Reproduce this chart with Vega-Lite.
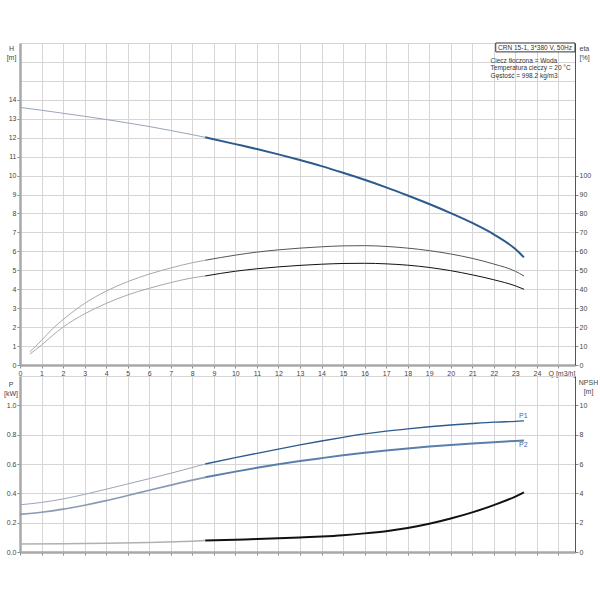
{
  "$schema": "https://vega.github.io/schema/vega-lite/v6.json",
  "padding": {"left": 3, "top": 39, "right": 0, "bottom": 5},
  "spacing": -8,
  "config": {
    "font": "Liberation Sans",
    "view": {"stroke": null},
    "axis": {
      "labelFont": "Liberation Sans",
      "titleFont": "Liberation Sans",
      "labelFontSize": 7,
      "titleFontSize": 7,
      "titleFontWeight": "normal",
      "labelColor": "#444",
      "titleColor": "#444",
      "labelFlush": false,
      "labelOverlap": false,
      "labelSeparation": 0,
      "labelPadding": 1,
      "tickSize": 3,
      "tickColor": "#888",
      "gridColor": "#d6d6d6",
      "gridWidth": 1
    },
    "axisX": {"labelOverlap": false}
  },
  "datasets": {
    "top_h": [
      {"c": "H1", "q": 0, "v": 13.6}, {"c": "H1", "q": 1, "v": 13.45}, {"c": "H1", "q": 2, "v": 13.29},
      {"c": "H1", "q": 3, "v": 13.13}, {"c": "H1", "q": 4, "v": 12.96}, {"c": "H1", "q": 5, "v": 12.78},
      {"c": "H1", "q": 6, "v": 12.59}, {"c": "H1", "q": 7, "v": 12.38}, {"c": "H1", "q": 8, "v": 12.16},
      {"c": "H1", "q": 8.6, "v": 12.02},
      {"c": "H2", "q": 8.6, "v": 12.02}, {"c": "H2", "q": 10, "v": 11.66}, {"c": "H2", "q": 11, "v": 11.4},
      {"c": "H2", "q": 12, "v": 11.12}, {"c": "H2", "q": 13, "v": 10.82}, {"c": "H2", "q": 14, "v": 10.5},
      {"c": "H2", "q": 15, "v": 10.15}, {"c": "H2", "q": 16, "v": 9.78}, {"c": "H2", "q": 17, "v": 9.38},
      {"c": "H2", "q": 18, "v": 8.95}, {"c": "H2", "q": 19, "v": 8.5}, {"c": "H2", "q": 20, "v": 8.02},
      {"c": "H2", "q": 21, "v": 7.5}, {"c": "H2", "q": 22, "v": 6.9}, {"c": "H2", "q": 23, "v": 6.12},
      {"c": "H2", "q": 23.4, "v": 5.68}
    ],
    "top_eta": [
      {"c": "E1a", "q": 0.46, "v": 7}, {"c": "E1a", "q": 1, "v": 13}, {"c": "E1a", "q": 1.5, "v": 19},
      {"c": "E1a", "q": 2, "v": 24}, {"c": "E1a", "q": 3, "v": 32.5}, {"c": "E1a", "q": 4, "v": 39},
      {"c": "E1a", "q": 5, "v": 44}, {"c": "E1a", "q": 6, "v": 48}, {"c": "E1a", "q": 7, "v": 51.2},
      {"c": "E1a", "q": 8, "v": 54}, {"c": "E1a", "q": 8.6, "v": 55.3},
      {"c": "E1b", "q": 8.6, "v": 55.3}, {"c": "E1b", "q": 10, "v": 58}, {"c": "E1b", "q": 11, "v": 59.6},
      {"c": "E1b", "q": 12, "v": 60.8}, {"c": "E1b", "q": 13, "v": 61.7}, {"c": "E1b", "q": 14, "v": 62.4},
      {"c": "E1b", "q": 15, "v": 62.9}, {"c": "E1b", "q": 16, "v": 63}, {"c": "E1b", "q": 17, "v": 62.6},
      {"c": "E1b", "q": 18, "v": 61.7}, {"c": "E1b", "q": 19, "v": 60.4}, {"c": "E1b", "q": 20, "v": 58.6},
      {"c": "E1b", "q": 21, "v": 56.3}, {"c": "E1b", "q": 22, "v": 53.3}, {"c": "E1b", "q": 23, "v": 49.5},
      {"c": "E1b", "q": 23.4, "v": 47},
      {"c": "E2a", "q": 0.46, "v": 5.8}, {"c": "E2a", "q": 1, "v": 10.5}, {"c": "E2a", "q": 1.5, "v": 15.5},
      {"c": "E2a", "q": 2, "v": 20}, {"c": "E2a", "q": 3, "v": 27}, {"c": "E2a", "q": 4, "v": 32.5},
      {"c": "E2a", "q": 5, "v": 37}, {"c": "E2a", "q": 6, "v": 40.5}, {"c": "E2a", "q": 7, "v": 43.5},
      {"c": "E2a", "q": 8, "v": 46}, {"c": "E2a", "q": 8.6, "v": 47},
      {"c": "E2b", "q": 8.6, "v": 47}, {"c": "E2b", "q": 10, "v": 49.5}, {"c": "E2b", "q": 11, "v": 50.8},
      {"c": "E2b", "q": 12, "v": 51.8}, {"c": "E2b", "q": 13, "v": 52.6}, {"c": "E2b", "q": 14, "v": 53.2},
      {"c": "E2b", "q": 15, "v": 53.6}, {"c": "E2b", "q": 16, "v": 53.7}, {"c": "E2b", "q": 17, "v": 53.4},
      {"c": "E2b", "q": 18, "v": 52.7}, {"c": "E2b", "q": 19, "v": 51.5}, {"c": "E2b", "q": 20, "v": 49.8},
      {"c": "E2b", "q": 21, "v": 47.6}, {"c": "E2b", "q": 22, "v": 45}, {"c": "E2b", "q": 23, "v": 41.8},
      {"c": "E2b", "q": 23.4, "v": 40}
    ],
    "bot_p": [
      {"c": "P1a", "q": 0, "v": 0.322}, {"c": "P1a", "q": 1, "v": 0.338}, {"c": "P1a", "q": 2, "v": 0.362},
      {"c": "P1a", "q": 3, "v": 0.393}, {"c": "P1a", "q": 4, "v": 0.428}, {"c": "P1a", "q": 5, "v": 0.464},
      {"c": "P1a", "q": 6, "v": 0.5}, {"c": "P1a", "q": 7, "v": 0.537}, {"c": "P1a", "q": 8, "v": 0.576},
      {"c": "P1a", "q": 8.6, "v": 0.6},
      {"c": "P1b", "q": 8.6, "v": 0.6}, {"c": "P1b", "q": 10, "v": 0.643}, {"c": "P1b", "q": 11, "v": 0.673},
      {"c": "P1b", "q": 12, "v": 0.702}, {"c": "P1b", "q": 13, "v": 0.73}, {"c": "P1b", "q": 14, "v": 0.757},
      {"c": "P1b", "q": 15, "v": 0.782}, {"c": "P1b", "q": 16, "v": 0.805}, {"c": "P1b", "q": 17, "v": 0.824},
      {"c": "P1b", "q": 18, "v": 0.84}, {"c": "P1b", "q": 19, "v": 0.854}, {"c": "P1b", "q": 20, "v": 0.866},
      {"c": "P1b", "q": 21, "v": 0.876}, {"c": "P1b", "q": 22, "v": 0.885}, {"c": "P1b", "q": 23, "v": 0.891},
      {"c": "P1b", "q": 23.4, "v": 0.894},
      {"c": "P2a", "q": 0, "v": 0.256}, {"c": "P2a", "q": 1, "v": 0.271}, {"c": "P2a", "q": 2, "v": 0.292},
      {"c": "P2a", "q": 3, "v": 0.319}, {"c": "P2a", "q": 4, "v": 0.35}, {"c": "P2a", "q": 5, "v": 0.385},
      {"c": "P2a", "q": 6, "v": 0.421}, {"c": "P2a", "q": 7, "v": 0.456}, {"c": "P2a", "q": 8, "v": 0.49},
      {"c": "P2a", "q": 8.6, "v": 0.509},
      {"c": "P2b", "q": 8.6, "v": 0.509}, {"c": "P2b", "q": 10, "v": 0.548}, {"c": "P2b", "q": 11, "v": 0.574},
      {"c": "P2b", "q": 12, "v": 0.598}, {"c": "P2b", "q": 13, "v": 0.62}, {"c": "P2b", "q": 14, "v": 0.64},
      {"c": "P2b", "q": 15, "v": 0.659}, {"c": "P2b", "q": 16, "v": 0.676}, {"c": "P2b", "q": 17, "v": 0.692},
      {"c": "P2b", "q": 18, "v": 0.706}, {"c": "P2b", "q": 19, "v": 0.719}, {"c": "P2b", "q": 20, "v": 0.73},
      {"c": "P2b", "q": 21, "v": 0.74}, {"c": "P2b", "q": 22, "v": 0.749}, {"c": "P2b", "q": 23, "v": 0.757},
      {"c": "P2b", "q": 23.4, "v": 0.76}
    ],
    "bot_npsh": [
      {"c": "N1", "q": 0, "v": 0.55}, {"c": "N1", "q": 2, "v": 0.56}, {"c": "N1", "q": 4, "v": 0.59},
      {"c": "N1", "q": 6, "v": 0.64}, {"c": "N1", "q": 8, "v": 0.74}, {"c": "N1", "q": 8.6, "v": 0.78},
      {"c": "N2", "q": 8.6, "v": 0.78}, {"c": "N2", "q": 10, "v": 0.84}, {"c": "N2", "q": 11, "v": 0.88},
      {"c": "N2", "q": 12, "v": 0.93}, {"c": "N2", "q": 13, "v": 0.99}, {"c": "N2", "q": 14, "v": 1.06},
      {"c": "N2", "q": 15, "v": 1.15}, {"c": "N2", "q": 16, "v": 1.27}, {"c": "N2", "q": 17, "v": 1.42},
      {"c": "N2", "q": 18, "v": 1.63}, {"c": "N2", "q": 19, "v": 1.92}, {"c": "N2", "q": 20, "v": 2.28},
      {"c": "N2", "q": 21, "v": 2.7}, {"c": "N2", "q": 22, "v": 3.2}, {"c": "N2", "q": 23, "v": 3.78},
      {"c": "N2", "q": 23.4, "v": 4.07}
    ],
    "box_top": [
      {"q": 22.09, "q2": 25.77, "v": 16.53, "v2": 17}
    ],
    "notes_top": [
      {"q": 22.2, "v": 16.76, "t": "CRN 15-1, 3*380 V, 50Hz"},
      {"q": 21.85, "v": 16.05, "t": "Ciecz tłoczona = Woda"},
      {"q": 21.85, "v": 15.66, "t": "Temperatura cieczy = 20 °C"},
      {"q": 21.85, "v": 15.28, "t": "Gęstość = 998.2 kg/m3"}
    ],
    "notes_bot": [
      {"q": 23.37, "v": 0.93, "t": "P1"},
      {"q": 23.37, "v": 0.728, "t": "P2"}
    ]
  },
  "vconcat": [
    {
      "width": 555,
      "height": 322,
      "resolve": {"scale": {"y": "independent", "color": "independent", "strokeWidth": "independent"}},
      "encoding": {
        "x": {
          "field": "q", "type": "quantitative",
          "scale": {"domain": [0, 25.77], "nice": false},
          "axis": {
            "values": [0,1,2,3,4,5,6,7,8,9,10,11,12,13,14,15,16,17,18,19,20,21,22,23,24,25],
            "labelExpr": "datum.value > 24 ? '' : format(datum.value, 'd')",
            "labelOverlap": false,
            "title": "Q [m3/h]", "titleAngle": 0, "titleAlign": "left", "titleBaseline": "top",
            "titleX": 528, "titleY": 4,
            "domainColor": "#a8a8a8", "domainWidth": 2.5
          }
        }
      },
      "layer": [
        {
          "data": {"name": "top_h"},
          "mark": {"type": "line", "interpolate": "monotone"},
          "encoding": {
            "y": {
              "field": "v", "type": "quantitative",
              "scale": {"domain": [0, 17], "nice": false},
              "axis": {
                "orient": "left",
                "values": [0,1,2,3,4,5,6,7,8,9,10,11,12,13,14,15,16,17],
                "labelExpr": "datum.value > 14 ? '' : datum.label",
                "tickColor": {"condition": {"test": "datum.value > 14", "value": "transparent"}, "value": "#888"},
                "title": ["H", "[m]"], "titleAngle": 0, "titleAlign": "center", "titleBaseline": "top",
                "titleX": -9, "titleY": 1, "titleLineHeight": 9,
                "domainColor": "#a8a8a8", "domainWidth": 2.5
              }
            },
            "color": {
              "field": "c", "type": "nominal", "legend": null,
              "scale": {"domain": ["H1", "H2"], "range": ["#9aa5b6", "#2d5b8c"]}
            },
            "strokeWidth": {
              "field": "c", "type": "nominal", "legend": null,
              "scale": {"domain": ["H1", "H2"], "range": [1, 2]}
            }
          }
        },
        {
          "data": {"name": "top_eta"},
          "mark": {"type": "line", "interpolate": "monotone"},
          "encoding": {
            "y": {
              "field": "v", "type": "quantitative",
              "scale": {"domain": [0, 170], "nice": false},
              "axis": {
                "orient": "right", "grid": false,
                "values": [0,10,20,30,40,50,60,70,80,90,100],
                "title": ["eta", "[%]"], "titleAngle": 0, "titleAlign": "left", "titleBaseline": "top",
                "titleX": 4, "titleY": 1, "titleLineHeight": 9,
                "domainColor": "#555", "domainWidth": 1
              }
            },
            "color": {
              "field": "c", "type": "nominal", "legend": null,
              "scale": {"domain": ["E1a", "E1b", "E2a", "E2b"], "range": ["#a8a8a8", "#555555", "#a8a8a8", "#111111"]}
            },
            "strokeWidth": {
              "field": "c", "type": "nominal", "legend": null,
              "scale": {"domain": ["E1a", "E1b", "E2a", "E2b"], "range": [1, 1, 1, 2]}
            }
          }
        },
        {
          "data": {"name": "box_top"},
          "mark": {"type": "rect", "fill": "white", "stroke": "#333", "strokeWidth": 1},
          "encoding": {
            "x2": {"field": "q2"},
            "y": {"field": "v", "type": "quantitative", "scale": {"domain": [0, 17], "nice": false}, "axis": null},
            "y2": {"field": "v2"}
          }
        },
        {
          "data": {"name": "notes_top"},
          "mark": {"type": "text", "align": "left", "baseline": "middle", "fontSize": 6.5, "font": "Liberation Sans", "color": "#333"},
          "encoding": {
            "y": {"field": "v", "type": "quantitative", "scale": {"domain": [0, 17], "nice": false}, "axis": null},
            "text": {"field": "t"}
          }
        }
      ]
    },
    {
      "width": 555,
      "height": 176,
      "resolve": {"scale": {"y": "independent", "color": "independent", "strokeWidth": "independent"}},
      "encoding": {
        "x": {
          "field": "q", "type": "quantitative",
          "scale": {"domain": [0, 25.77], "nice": false},
          "axis": {
            "values": [0,1,2,3,4,5,6,7,8,9,10,11,12,13,14,15,16,17,18,19,20,21,22,23,24,25],
            "labels": false, "title": null,
            "domainColor": "#a8a8a8", "domainWidth": 2.5
          }
        }
      },
      "layer": [
        {
          "data": {"name": "bot_p"},
          "mark": {"type": "line", "interpolate": "monotone"},
          "encoding": {
            "y": {
              "field": "v", "type": "quantitative",
              "scale": {"domain": [0, 1.2], "nice": false},
              "axis": {
                "orient": "left",
                "values": [0, 0.2, 0.4, 0.6, 0.8, 1.0, 1.2],
                "format": ".1f",
                "labelExpr": "datum.value > 1.1 ? '' : datum.label",
                "tickColor": {"condition": {"test": "datum.value > 1.1", "value": "transparent"}, "value": "#888"},
                "title": ["P", "[kW]"], "titleAngle": 0, "titleAlign": "center", "titleBaseline": "top",
                "titleX": -9.5, "titleY": 4, "titleLineHeight": 9,
                "domainColor": "#a8a8a8", "domainWidth": 2.5
              }
            },
            "color": {
              "field": "c", "type": "nominal", "legend": null,
              "scale": {"domain": ["P1a", "P1b", "P2a", "P2b"], "range": ["#9aa5b6", "#2d5b8c", "#8a9bb2", "#5b7fab"]}
            },
            "strokeWidth": {
              "field": "c", "type": "nominal", "legend": null,
              "scale": {"domain": ["P1a", "P1b", "P2a", "P2b"], "range": [1, 2, 0.9, 0.9]}
            }
          }
        },
        {
          "data": {"name": "bot_npsh"},
          "mark": {"type": "line", "interpolate": "monotone"},
          "encoding": {
            "y": {
              "field": "v", "type": "quantitative",
              "scale": {"domain": [0, 12], "nice": false},
              "axis": {
                "orient": "right", "grid": false,
                "values": [0, 2, 4, 6, 8, 10],
                "title": ["NPSH", "[m]"], "titleAngle": 0, "titleAlign": "center", "titleBaseline": "top",
                "titleX": 13, "titleY": 2, "titleLineHeight": 9,
                "domainColor": "#555", "domainWidth": 1
              }
            },
            "color": {
              "field": "c", "type": "nominal", "legend": null,
              "scale": {"domain": ["N1", "N2"], "range": ["#b0b0b0", "#111111"]}
            },
            "strokeWidth": {
              "field": "c", "type": "nominal", "legend": null,
              "scale": {"domain": ["N1", "N2"], "range": [1.5, 2]}
            }
          }
        },
        {
          "data": {"name": "notes_bot"},
          "mark": {"type": "text", "align": "center", "baseline": "middle", "fontSize": 7, "font": "Liberation Sans", "color": "#3a66a0"},
          "encoding": {
            "y": {"field": "v", "type": "quantitative", "scale": {"domain": [0, 1.2], "nice": false}, "axis": null},
            "text": {"field": "t"}
          }
        }
      ]
    }
  ]
}
